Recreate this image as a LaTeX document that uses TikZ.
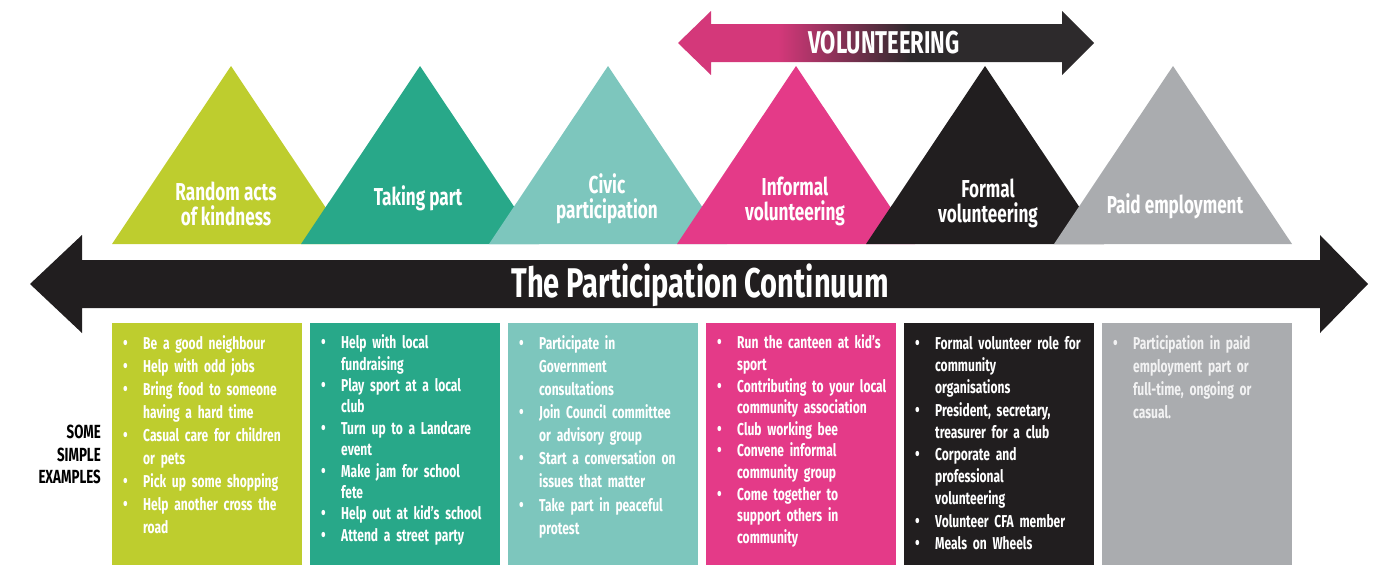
\documentclass[tikz,border=0pt]{standalone}
\usepackage{fontspec}
\newfontfamily\condfont{Fira Sans}[FakeStretch=0.7]

\definecolor{cYel}{RGB}{190,205,46}
\definecolor{cGrn}{RGB}{40,168,137}
\definecolor{cTeal}{RGB}{125,198,189}
\definecolor{cPink}{RGB}{228,58,136}
\definecolor{cBlk}{RGB}{33,30,31}
\definecolor{cGry}{RGB}{170,172,175}
\definecolor{volPink}{RGB}{212,56,122}
\definecolor{volDark}{RGB}{45,42,44}

\pgfdeclarehorizontalshading{volgrad}{100bp}{color(0bp)=(volPink); color(37bp)=(volPink); color(53bp)=(volDark); color(100bp)=(volDark)}

% bulleted entry with a hanging indent; \nl breaks a line inside an entry
\newcommand\pitem{\par\noindent\hangindent=20pt\hangafter=1\strut\makebox[20pt][l]{{\fontsize{19}{19}\selectfont •}}}
\newcommand\nl{\hfil\break\strut}

\tikzset{
  lbl/.style={text=white, font={\condfont\bfseries\fontsize{24.5}{25}\selectfont}, align=center, inner sep=0pt},
  extext/.style={anchor=north west, inner sep=0pt, text width=185pt, text=white, align=left,
    font={\condfont\bfseries\fontsize{17.2}{#1}\selectfont}},
  extext/.default=23pt,
  bigarrow/.style={fill=cBlk},
}

\begin{document}
\begin{tikzpicture}[x=1pt,y=-1pt]
\useasboundingbox (0,0) rectangle (1385,565);

% volunteering double arrow
\shade[shading=volgrad] (678,43) -- (711,11) -- (711,24) -- (1062,24) -- (1062,11) -- (1094,43)
  -- (1062,75) -- (1062,62) -- (711,62) -- (711,75) -- cycle;
\node[text=white, font={\condfont\bfseries\fontsize{31.5}{31.5}\selectfont}, inner sep=0pt] (vol) at (884,43) {VOLUNTEERING};

% triangles
\fill[cYel]  (112,244) -- (231,66) -- (350,244) -- cycle;
\fill[cGrn]  (301,244) -- (420,66) -- (539,244) -- cycle;
\fill[cTeal] (489,244) -- (608,66) -- (727,244) -- cycle;
\fill[cPink] (677,244) -- (796,66) -- (915,244) -- cycle;
\fill[cBlk]  (866,244) -- (985,66) -- (1104,244) -- cycle;
\fill[cGry]  (1054,244) -- (1173,66) -- (1292,244) -- cycle;

\node[lbl] (t1) at (226,204) {Random acts\\of kindness};
\node[lbl] (t2) at (418,198) {Taking part};
\node[lbl] (t3) at (607,199) {Civic\\participation};
\node[lbl] (t4) at (795,201) {Informal\\volunteering};
\node[lbl] (t5) at (988,203) {Formal\\volunteering};
\node[lbl] (t6) at (1175,206) {Paid employment};

% participation continuum arrow
\fill[bigarrow] (30,284) -- (82,235) -- (82,260) -- (1320,260) -- (1320,235) -- (1368,284)
  -- (1320,333) -- (1320,308) -- (82,308) -- (82,333) -- cycle;
\node[text=white, font={\condfont\bfseries\fontsize{41.5}{41.5}\selectfont}, inner sep=0pt] (title) at (700,285) {The Participation Continuum};

% example boxes
\fill[cYel]  (112,323) rectangle (302,565);
\fill[cGrn]  (310,323) rectangle (500,565);
\fill[cTeal] (508,323) rectangle (698,565);
\fill[cPink] (706,323) rectangle (896,565);
\fill[cBlk]  (904,323) rectangle (1094,565);
\fill[cGry]  (1102,323) rectangle (1292,565);

\node[font={\condfont\bfseries\fontsize{19}{22.5}\selectfont}, align=right, inner sep=0pt, anchor=north east] (ex) at (101,425)
  {SOME\\SIMPLE\\EXAMPLES};

\node[extext=23pt] (e1) at (123,326) {%
\pitem Be a good neighbour
\pitem Help with odd jobs
\pitem Bring food to someone\nl having a hard time
\pitem Casual care for children\nl or pets
\pitem Pick up some shopping
\pitem Help another cross the\nl road\par};

\node[extext=21.4pt] (e2) at (321,327) {%
\pitem Help with local\nl fundraising
\pitem Play sport at a local\nl club
\pitem Turn up to a Landcare\nl event
\pitem Make jam for school\nl fete
\pitem Help out at kid’s school
\pitem Attend a street party\par};

\node[extext=23.1pt] (e3) at (519,326) {%
\pitem Participate in\nl Government\nl consultations
\pitem Join Council committee\nl or advisory group
\pitem Start a conversation on\nl issues that matter
\pitem Take part in peaceful\nl protest\par};

\node[extext=21.6pt] (e4) at (717,327) {%
\pitem Run the canteen at kid’s\nl sport
\pitem Contributing to your local\nl community association
\pitem Club working bee
\pitem Convene informal\nl community group
\pitem Come together to\nl support others in\nl community\par};

\node[extext=22.2pt] (e5) at (915,327) {%
\pitem Formal volunteer role for\nl community\nl organisations
\pitem President, secretary,\nl treasurer for a club
\pitem Corporate and\nl professional\nl volunteering
\pitem Volunteer CFA member
\pitem Meals on Wheels\par};

\node[extext=23pt, text opacity=0.85] (e6) at (1113,326) {%
\pitem Participation in paid\nl employment part or\nl full-time, ongoing or\nl casual.\par};

\end{tikzpicture}
\end{document}
